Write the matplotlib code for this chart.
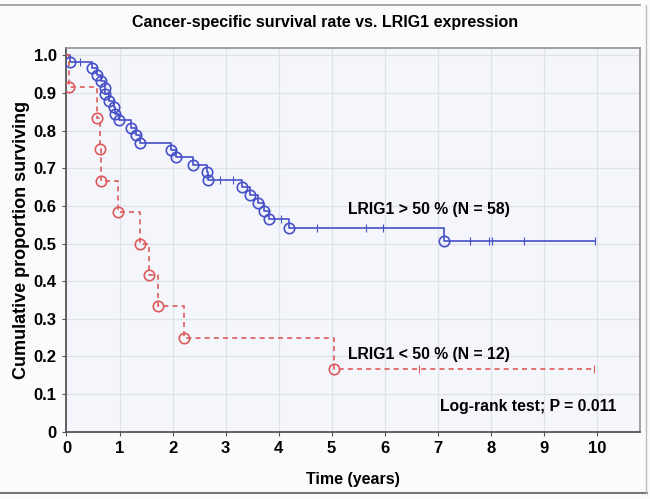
import numpy as np
import matplotlib
matplotlib.use("Agg")
import matplotlib.pyplot as plt
from matplotlib.lines import Line2D

# LRIG1 > 50 % group: event times (years) and survival after each event
high_times = [0.066, 0.475, 0.57, 0.645, 0.72, 0.725, 0.80, 0.90, 0.91, 0.99,
              1.22, 1.31, 1.39, 1.98, 2.07, 2.39, 2.65, 2.66, 3.31, 3.46,
              3.62, 3.73, 3.81, 4.20, 7.11]
high_surv = [0.983, 0.966, 0.948, 0.931, 0.914, 0.897, 0.879, 0.862, 0.845, 0.828,
             0.806, 0.788, 0.767, 0.748, 0.729, 0.709, 0.689, 0.669, 0.649, 0.629,
             0.608, 0.587, 0.566, 0.540, 0.508]
high_censored = [0.25, 2.9, 3.14, 4.05, 4.72, 5.65, 5.97, 7.61, 7.96, 8.02, 8.62, 9.96]
high_end = 9.96

# LRIG1 < 50 % group
low_times = [0.05, 0.57, 0.64, 0.645, 0.98, 1.39, 1.56, 1.72, 2.22, 5.05]
low_surv = [0.917, 0.833, 0.75, 0.667, 0.583, 0.5, 0.417, 0.333, 0.25, 0.167]
low_censored = [6.64, 9.94]
low_end = 9.94

x_ticks = list(range(0, 11))
y_ticks = [0, 0.1, 0.2, 0.3, 0.4, 0.5, 0.6, 0.7, 0.8, 0.9, 1.0]
y_ticklabels = ["0", "0.1", "0.2", "0.3", "0.4", "0.5", "0.6", "0.7", "0.8", "0.9", "1.0"]

BLUE = "#4650c8"
RED = "#de5a5a"

plt.rcParams["font.family"] = ["Liberation Sans", "DejaVu Sans"]
plt.rcParams["font.weight"] = "bold"

fig = plt.figure(figsize=(6.5, 4.99), dpi=100, facecolor="#fbfbfb")
ax = fig.add_axes([0.1023, 0.135, 0.8827, 0.769])
ax.set_facecolor("#f4f6fc")


def km_curve(times, surv, end):
    xs = np.concatenate([[0.0], times, [end]])
    ys = np.concatenate([[1.0], surv, [surv[-1]]])
    return xs, ys


def surv_at(times, surv, t):
    idx = np.searchsorted(times, t, side="right") - 1
    return np.where(idx < 0, 1.0, np.array(surv)[np.clip(idx, 0, None)])


xs, ys = km_curve(high_times, high_surv, high_end)
ax.step(xs, ys, where="post", color=BLUE, lw=1.2, zorder=3)
ax.plot(high_times, high_surv, "o", mfc="none", mec=BLUE, ms=7.5, mew=1.2, zorder=4)
ax.plot(high_censored, surv_at(high_times, high_surv, high_censored), "|",
        color=BLUE, ms=6, mew=0.8, zorder=4)

xs, ys = km_curve(low_times, low_surv, low_end)
ax.step(xs, ys, where="post", color=RED, lw=1.2, ls=(0, (3, 2.5)), zorder=3)
ax.plot(low_times, low_surv, "o", mfc="none", mec=RED, ms=7.5, mew=1.2, zorder=4)
ax.plot(low_censored, surv_at(low_times, low_surv, low_censored), "|",
        color=RED, ms=6, mew=0.8, zorder=4)

ax.set_xlim(0, 10.82)
ax.set_ylim(0, 1.02)
ax.set_xticks(x_ticks)
ax.set_yticks(y_ticks)
ax.set_yticklabels(y_ticklabels)
ax.grid(True, color="#dfe2e9", lw=0.9)
ax.set_axisbelow(True)
ax.tick_params(axis="both", labelsize=12, length=3, color="#555555", pad=4)
for lab in ax.get_xticklabels() + ax.get_yticklabels():
    lab.set_fontweight("bold")
for side in ["top", "right"]:
    ax.spines[side].set_color("#8a8a8a")
    ax.spines[side].set_linewidth(1.1)
for side in ["left", "bottom"]:
    ax.spines[side].set_color("#555555")
    ax.spines[side].set_linewidth(1.3)

ax.set_xlabel("Time (years)", fontsize=11.5, fontweight="bold", labelpad=11)
ax.set_ylabel("Cumulative proportion surviving", fontsize=13, fontweight="bold", labelpad=3)
fig.text(0.5, 0.955, "Cancer-specific survival rate vs. LRIG1 expression",
         ha="center", va="center", fontsize=11.5, fontweight="bold")

ax.text(5.3, 0.59, "LRIG1 > 50 % (N = 58)", fontsize=11.3, fontweight="bold", va="center")
ax.text(5.3, 0.205, "LRIG1 < 50 % (N = 12)", fontsize=11.3, fontweight="bold", va="center")
ax.text(7.05, 0.068, "Log-rank test; P = 0.011", fontsize=11.3, fontweight="bold", va="center")

# screenshot frame lines
fig.add_artist(Line2D([0, 0.985], [0.99, 0.99], transform=fig.transFigure, color="#999999", lw=1.2))
fig.add_artist(Line2D([0, 0.995], [0.012, 0.012], transform=fig.transFigure, color="#777777", lw=1.5))
fig.add_artist(Line2D([0.994, 0.994], [0.012, 0.99], transform=fig.transFigure, color="#bbbbbb", lw=1.0))

fig.savefig("out.png", dpi=100, facecolor=fig.get_facecolor())
